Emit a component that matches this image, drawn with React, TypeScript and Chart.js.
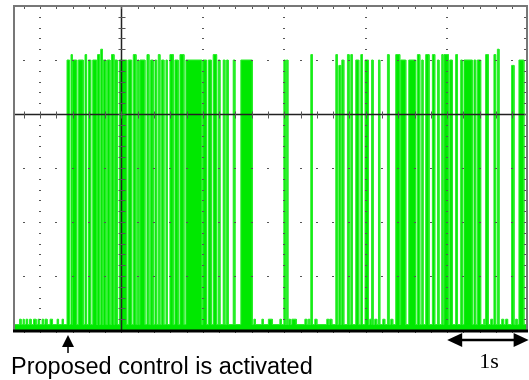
import React, { useEffect, useRef } from "react";
import { Chart, registerables } from "chart.js";

Chart.register(...registerables);

// time axis in seconds (1 s per division), vertical axis in divisions
const X_MIN = -0.32;
const X_MAX = 5.98;
const Y_MIN = -4;
const Y_MAX = 2;
const LOW_LEVEL = -3.9;

const timeGrid = [0, 1, 2, 3, 4, 5];
const levelGrid = [-3, -2, -1, 0, 1];
const axisTime = 1;
const axisLevel = 0;

// [start s, end s, level]
const pulses: [number, number, number][] = [
  [0.331, 0.362, 1.0], [0.38, 0.393, 1.1], [0.401, 0.45, 1.0], [0.47, 0.531, 1.0],
  [0.552, 0.571, 1.1], [0.593, 0.622, 1.0], [0.647, 0.696, 1.0], [0.706, 0.73, 1.1],
  [0.745, 0.767, 1.2], [0.777, 0.81, 1.0], [0.826, 0.859, 1.0], [0.877, 0.908, 1.1],
  [0.92, 0.948, 1.0], [0.973, 1.064, 1.0], [1.083, 1.125, 1.0], [1.145, 1.178, 1.1],
  [1.196, 1.215, 1.0], [1.227, 1.288, 1.0], [1.313, 1.337, 1.1], [1.358, 1.39, 1.0],
  [1.411, 1.432, 1.0], [1.452, 1.472, 1.1], [1.493, 1.521, 1.0], [1.546, 1.562, 1.0],
  [1.595, 1.636, 1.1], [1.656, 1.697, 1.0], [1.718, 1.767, 1.1], [1.791, 1.988, 1.0],
  [2.0, 2.045, 1.0], [2.067, 2.104, 1.0], [2.126, 2.168, 1.1], [2.188, 2.209, 1.0],
  [2.249, 2.27, 1.0], [2.291, 2.31, 1.0], [2.372, 2.393, 1.0], [2.466, 2.607, 1.0],
  [2.994, 3.012, 1.0], [3.025, 3.043, 1.0], [3.325, 3.344, 1.1], [3.632, 3.65, 1.1],
  [3.669, 3.693, 0.9], [3.706, 3.73, 1.0], [3.775, 3.795, 1.1], [3.816, 3.834, 1.1],
  [3.877, 3.914, 1.0], [3.939, 3.96, 1.1], [3.991, 4.033, 1.0], [4.074, 4.09, 1.0],
  [4.156, 4.172, 1.0], [4.266, 4.286, 1.1], [4.368, 4.417, 1.1], [4.429, 4.491, 1.0],
  [4.528, 4.613, 1.0], [4.634, 4.663, 1.1], [4.687, 4.703, 1.0], [4.736, 4.777, 1.1],
  [4.818, 4.847, 1.1], [4.88, 4.899, 1.0], [4.933, 4.948, 1.1], [4.961, 5.015, 1.1],
  [5.031, 5.064, 1.0], [5.104, 5.125, 1.1], [5.166, 5.186, 1.0], [5.206, 5.309, 1.0],
  [5.329, 5.35, 1.0], [5.37, 5.411, 1.0], [5.472, 5.505, 1.1], [5.574, 5.595, 1.1],
  [5.616, 5.636, 1.2], [5.791, 5.82, 0.9], [5.881, 5.942, 1.0],
];

// small bumps on the low level [start s, end s, level]
const baselineNoise: [number, number, number][] = [
  [-0.252, -0.233, -3.8], [-0.209, -0.196, -3.8], [-0.172, -0.153, -3.8],
  [-0.129, -0.11, -3.8], [-0.08, -0.049, -3.8], [-0.025, -0.006, -3.8],
  [0.025, 0.043, -3.8], [0.061, 0.086, -3.8], [0.123, 0.153, -3.8],
  [0.209, 0.227, -3.8], [0.27, 0.288, -3.8], [2.626, 2.644, -3.8],
  [2.724, 2.742, -3.8], [2.804, 2.853, -3.8], [2.945, 2.963, -3.8],
  [3.055, 3.074, -3.8], [3.092, 3.147, -3.8], [3.252, 3.276, -3.8],
  [3.294, 3.313, -3.8], [3.374, 3.399, -3.8], [3.521, 3.546, -3.8],
  [3.558, 3.583, -3.8], [4.049, 4.067, -3.8], [4.11, 4.135, -3.8],
  [4.209, 4.233, -3.8], [4.307, 4.331, -3.8], [5.448, 5.46, -3.8],
  [5.534, 5.558, -3.8], [5.669, 5.693, -3.8], [5.718, 5.742, -3.8],
  [5.84, 5.859, -3.8],
];

const activationTime = 0.34;
const scaleBarStart = 5;
const scaleBarEnd = 6;
const captionText = "Proposed control is activated";
const scaleText = "1s";

function buildTrace() {
  const events = [...pulses, ...baselineNoise].sort((a, b) => a[0] - b[0]);
  const pts: { x: number; y: number }[] = [{ x: X_MIN, y: LOW_LEVEL }];
  for (const [a, b, h] of events) {
    pts.push({ x: a, y: LOW_LEVEL }, { x: a, y: h }, { x: b, y: h }, { x: b, y: LOW_LEVEL });
  }
  pts.push({ x: X_MAX, y: LOW_LEVEL });
  return pts;
}

const scopePlugin = {
  id: "scopeGrid",
  afterDatasetsDraw(chart: any) {
    const { ctx, chartArea } = chart;
    const { left, right, top, bottom } = chartArea;
    const xs = chart.scales.x;
    const ys = chart.scales.y;
    ctx.save();
    // dotted grid
    ctx.fillStyle = "#555";
    for (const t of timeGrid) {
      if (t === axisTime) continue;
      const px = Math.round(xs.getPixelForValue(t));
      for (let v = Y_MIN + 0.2; v < Y_MAX - 0.01; v += 0.2) {
        const py = Math.round(ys.getPixelForValue(v));
        ctx.fillRect(px - 1, py, 2, 1);
      }
    }
    for (const lv of levelGrid) {
      if (lv === axisLevel) continue;
      const py = Math.round(ys.getPixelForValue(lv));
      for (let t = -0.2; t < X_MAX; t += 0.2) {
        const px = Math.round(xs.getPixelForValue(t));
        ctx.fillRect(px - 1, py, 2, 1);
      }
    }
    // axes
    const ay = Math.round(ys.getPixelForValue(axisLevel)) + 0.5;
    const ax = Math.round(xs.getPixelForValue(axisTime)) + 0.5;
    ctx.strokeStyle = "#222";
    ctx.lineWidth = 1.5;
    ctx.beginPath();
    ctx.moveTo(left, ay);
    ctx.lineTo(right, ay);
    ctx.moveTo(ax, top);
    ctx.lineTo(ax, bottom);
    ctx.stroke();
    ctx.strokeStyle = "#555";
    ctx.lineWidth = 1;
    ctx.beginPath();
    for (let t = -0.2; t < X_MAX; t += 0.2) {
      const px = Math.round(xs.getPixelForValue(t)) + 0.5;
      ctx.moveTo(px, ay - 3);
      ctx.lineTo(px, ay + 4);
      ctx.moveTo(px, top);
      ctx.lineTo(px, top + 3);
      ctx.moveTo(px, bottom);
      ctx.lineTo(px, bottom + 3);
    }
    for (let v = Y_MIN + 0.2; v < Y_MAX - 0.01; v += 0.2) {
      const py = Math.round(ys.getPixelForValue(v)) + 0.5;
      ctx.moveTo(ax - 3, py);
      ctx.lineTo(ax + 4, py);
      ctx.moveTo(right - 3, py);
      ctx.lineTo(right, py);
    }
    ctx.stroke();
    // frame
    ctx.strokeStyle = "#777";
    ctx.lineWidth = 2;
    ctx.beginPath();
    ctx.moveTo(left, bottom);
    ctx.lineTo(left, top);
    ctx.lineTo(right, top);
    ctx.lineTo(right, bottom);
    ctx.stroke();
    ctx.strokeStyle = "#000";
    ctx.lineWidth = 3;
    ctx.beginPath();
    ctx.moveTo(left - 1, bottom + 1);
    ctx.lineTo(right + 1, bottom + 1);
    ctx.stroke();
    ctx.restore();
  },
  afterDraw(chart: any) {
    const { ctx, chartArea } = chart;
    const xs = chart.scales.x;
    const { bottom } = chartArea;
    ctx.save();
    ctx.fillStyle = "#000";
    ctx.strokeStyle = "#000";
    // activation arrow
    const axp = Math.round(xs.getPixelForValue(activationTime));
    ctx.beginPath();
    ctx.moveTo(axp, bottom + 5);
    ctx.lineTo(axp - 6, bottom + 17);
    ctx.lineTo(axp + 6, bottom + 17);
    ctx.closePath();
    ctx.fill();
    ctx.lineWidth = 1.5;
    ctx.beginPath();
    ctx.moveTo(axp, bottom + 16);
    ctx.lineTo(axp, bottom + 23);
    ctx.stroke();
    // scale bar
    const s0 = xs.getPixelForValue(scaleBarStart);
    const s1 = xs.getPixelForValue(scaleBarEnd);
    const sy = bottom + 10;
    ctx.lineWidth = 2.5;
    ctx.beginPath();
    ctx.moveTo(s0 + 10, sy);
    ctx.lineTo(s1 - 10, sy);
    ctx.stroke();
    ctx.beginPath();
    ctx.moveTo(s0, sy);
    ctx.lineTo(s0 + 15, sy - 7);
    ctx.lineTo(s0 + 15, sy + 7);
    ctx.closePath();
    ctx.fill();
    ctx.beginPath();
    ctx.moveTo(s1, sy);
    ctx.lineTo(s1 - 15, sy - 7);
    ctx.lineTo(s1 - 15, sy + 7);
    ctx.closePath();
    ctx.fill();
    // texts
    ctx.textBaseline = "alphabetic";
    ctx.textAlign = "left";
    ctx.font = '23.5px "Liberation Sans", Arial, sans-serif';
    ctx.fillText(captionText, 11, 374);
    ctx.textAlign = "center";
    ctx.font = '22px "Liberation Serif", "Times New Roman", serif';
    ctx.fillText(scaleText, (s0 + s1) / 2 + 1, 368);
    ctx.restore();
  },
};

export default function App() {
  const ref = useRef<HTMLCanvasElement | null>(null);
  useEffect(() => {
    if (!ref.current) return;
    const chart = new Chart(ref.current, {
      type: "line",
      data: {
        datasets: [
          {
            data: buildTrace(),
            borderColor: "rgb(40,238,40)",
            backgroundColor: "rgb(0,232,0)",
            borderWidth: 1,
            pointRadius: 0,
            tension: 0,
            fill: "start",
          },
        ],
      },
      options: {
        animation: false,
        responsive: false,
        events: [],
        layout: { padding: { left: 14, right: 2, top: 6, bottom: 50 } },
        plugins: { legend: { display: false }, tooltip: { enabled: false } },
        scales: {
          x: { type: "linear", min: X_MIN, max: X_MAX, display: false },
          y: { type: "linear", min: Y_MIN, max: Y_MAX, display: false },
        },
      },
      plugins: [scopePlugin],
    });
    return () => chart.destroy();
  }, []);
  return (
    <div style={{ position: "absolute", left: 0, top: 0, width: 529, height: 380, background: "#fff" }}>
      <canvas ref={ref} width={529} height={380} />
    </div>
  );
}
